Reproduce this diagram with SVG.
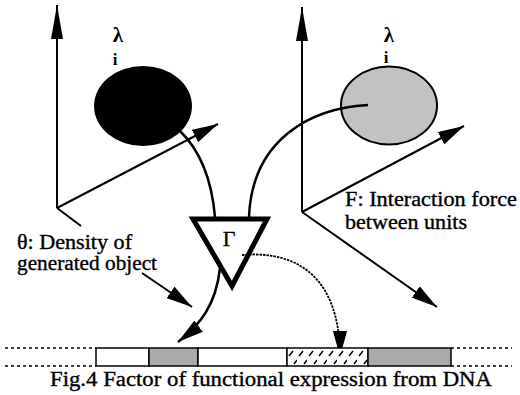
<svg xmlns="http://www.w3.org/2000/svg" width="520" height="395" viewBox="0 0 520 395">
  <style>
    .ax { stroke: #000; stroke-width: 2; fill: none; }
    .cv { stroke: #000; stroke-width: 2.5; fill: none; }
    .lbl { font-size: 20px; stroke: #000; stroke-width: 0.35; }
    .dot { stroke: #000; stroke-width: 1.3; stroke-dasharray: 3 3; fill: none; }
    .seg { stroke: #000; stroke-width: 1.5; }
  </style>
  <defs>
    <marker id="ah" markerUnits="userSpaceOnUse" markerWidth="26" markerHeight="14" refX="26" refY="7" orient="auto">
      <path d="M0,0 L26,7 L0,14 Z" fill="#000"/>
    </marker>
    <marker id="ahv" markerUnits="userSpaceOnUse" markerWidth="34" markerHeight="12" refX="34" refY="6" orient="auto">
      <path d="M0,0 L34,6 L0,12 Z" fill="#000"/>
    </marker>
    <pattern id="hatch" patternUnits="userSpaceOnUse" x="287" y="348" width="10" height="18">
      <rect width="10" height="18" fill="#fff"/>
      <path d="M2,8 L6,3 M7,16 L10,12" stroke="#000" stroke-width="1.5"/>
    </pattern>
  </defs>

  <g id="axes-left">
    <line class="ax" x1="57" y1="208" x2="57" y2="5" marker-end="url(#ahv)"/>
    <line class="ax" x1="57" y1="208" x2="218" y2="124" marker-end="url(#ah)"/>
    <line class="ax" x1="57" y1="208" x2="81" y2="226"/>
  </g>
  <g id="axes-right">
    <line class="ax" x1="302" y1="212" x2="302" y2="7" marker-end="url(#ahv)"/>
    <line class="ax" x1="302" y1="212" x2="464" y2="126" marker-end="url(#ah)"/>
    <line class="ax" x1="302" y1="212" x2="437" y2="307" marker-end="url(#ah)"/>
  </g>

  <g id="object-black" font-family="Liberation Serif, Times New Roman, Times, DejaVu Serif, serif">
    <ellipse cx="143" cy="106" rx="49" ry="40" fill="#000"/>
    <text x="118" y="42" font-size="21" font-weight="bold" text-anchor="middle">λ</text>
    <text x="115" y="65" font-size="17" font-weight="bold" text-anchor="middle">i</text>
  </g>
  <g id="object-gray" font-family="Liberation Serif, Times New Roman, Times, DejaVu Serif, serif">
    <ellipse cx="389" cy="105.5" rx="48" ry="39" fill="#c2c2c2" stroke="#000" stroke-width="2"/>
    <text x="389" y="42" font-size="21" font-weight="bold" text-anchor="middle">λ</text>
    <text x="386" y="63" font-size="17" font-weight="bold" text-anchor="middle">i</text>
  </g>

  <g id="gamma" font-family="Liberation Serif, Times New Roman, Times, DejaVu Serif, serif">
    <polygon points="193,219 267,219 232,286" fill="#fff" stroke="#000" stroke-width="5" stroke-linejoin="miter"/>
    <text x="229" y="246" font-size="22" stroke="#000" stroke-width="0.3" text-anchor="middle">Γ</text>
  </g>

  <g id="connectors">
    <path class="cv" d="M180,131 Q210,160 215,217"/>
    <path class="cv" d="M368,105 C310,108 252,140 249,217"/>
    <path class="cv" d="M220,268 C216,305 200,325 178,342" marker-end="url(#ah)"/>
    <path d="M242,255 C300,250 340,280 340,357" fill="none" stroke="#000" stroke-width="1.8" stroke-dasharray="2.5 1" marker-end="url(#ah)"/>
    <line class="ax" x1="142" y1="273" x2="192" y2="307" marker-end="url(#ah)"/>
  </g>

  <g id="label-theta" font-family="Liberation Serif, Times New Roman, Times, DejaVu Serif, serif">
    <text class="lbl" x="17" y="249" textLength="115" lengthAdjust="spacingAndGlyphs">θ: Density of</text>
    <text class="lbl" x="17" y="270" textLength="140" lengthAdjust="spacingAndGlyphs">generated object</text>
  </g>
  <g id="label-F" font-family="Liberation Serif, Times New Roman, Times, DejaVu Serif, serif">
    <text class="lbl" x="345" y="206" textLength="172" lengthAdjust="spacingAndGlyphs">F: Interaction force</text>
    <text class="lbl" x="345" y="229" textLength="122" lengthAdjust="spacingAndGlyphs">between units</text>
  </g>

  <g id="dna">
    <line class="dot" x1="5" y1="348" x2="96" y2="348"/>
    <line class="dot" x1="5" y1="366" x2="96" y2="366"/>
    <line class="dot" x1="451" y1="348" x2="512" y2="348"/>
    <line class="dot" x1="451" y1="366" x2="512" y2="366"/>
    <rect class="seg" x="96" y="348" width="53" height="18" fill="#fff"/>
    <rect class="seg" x="149" y="348" width="49" height="18" fill="#aaaaaa"/>
    <rect class="seg" x="198" y="348" width="89" height="18" fill="#fff"/>
    <rect class="seg" x="287" y="348" width="81" height="18" fill="url(#hatch)"/>
    <rect class="seg" x="368" y="348" width="83" height="18" fill="#aaaaaa"/>
  </g>

  <g id="caption" font-family="Liberation Serif, Times New Roman, Times, DejaVu Serif, serif">
    <text class="lbl" x="50" y="386" textLength="442" lengthAdjust="spacingAndGlyphs">Fig.4  Factor of functional expression from DNA</text>
  </g>
</svg>
